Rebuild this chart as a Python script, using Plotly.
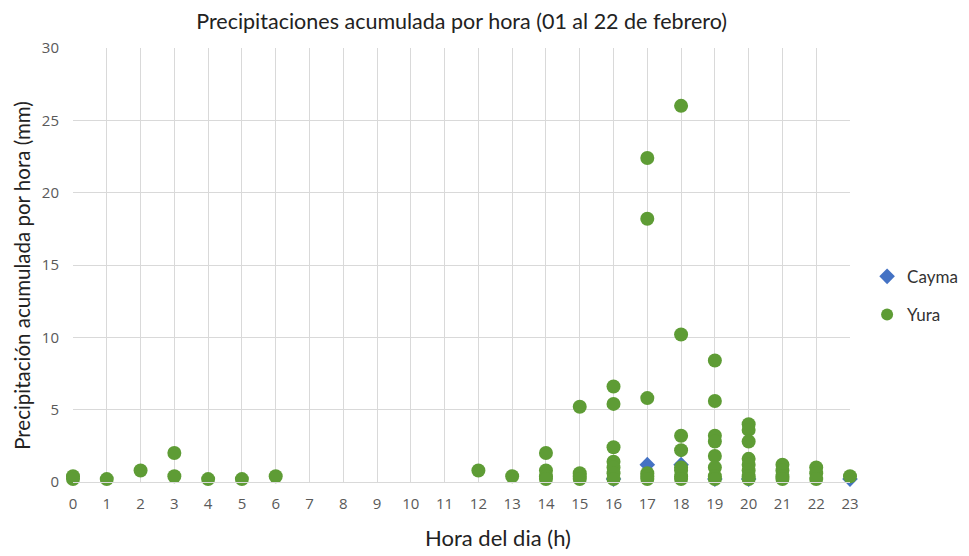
import plotly.graph_objects as go

# Data
hours_ticks = list(range(0, 24))
y_ticks = [0, 5, 10, 15, 20, 25, 30]

cayma_hour = [17, 18, 23, 16, 19, 20]
cayma_mm = [1.2, 1.2, 0.2, 0.2, 0.2, 0.2]

yura_hour = ([0, 0, 1, 2, 3, 3, 4, 5, 6, 12, 13]
             + [14] * 4 + [15] * 4 + [16] * 7 + [17] * 6 + [18] * 8
             + [19] * 8 + [20] * 8 + [21] * 4 + [22] * 3 + [23])
yura_mm = ([0.4, 0.2, 0.2, 0.8, 2.0, 0.4, 0.2, 0.2, 0.4, 0.8, 0.4]
           + [2.0, 0.8, 0.4, 0.2]
           + [5.2, 0.6, 0.4, 0.2]
           + [6.6, 5.4, 2.4, 1.4, 1.0, 0.6, 0.2]
           + [22.4, 18.2, 5.8, 0.6, 0.4, 0.2]
           + [26.0, 10.2, 3.2, 2.2, 1.0, 0.8, 0.4, 0.2]
           + [8.4, 5.6, 3.2, 2.8, 1.8, 1.0, 0.4, 0.2]
           + [4.0, 3.6, 2.8, 1.6, 1.2, 0.8, 0.4, 0.2]
           + [1.2, 0.8, 0.4, 0.2]
           + [1.0, 0.6, 0.2]
           + [0.4])

title_font = "Lato, 'Noto Sans', sans-serif"
tick_font = "'Open Sans', 'Liberation Sans', sans-serif"

fig = go.Figure()
fig.add_trace(go.Scatter(
    x=cayma_hour, y=cayma_mm, mode="markers", name="Cayma",
    legendgroup="a",
    marker=dict(symbol="diamond", size=12, color="#4472C4"),
    cliponaxis=False,
))
fig.add_trace(go.Scatter(
    x=yura_hour, y=yura_mm, mode="markers", name="Yura",
    legendgroup="b",
    marker=dict(symbol="circle", size=14, color="#5E9C35"),
    cliponaxis=False,
))

fig.update_layout(
    width=961, height=548,
    margin=dict(l=65, r=119, t=39.5, b=73.5, autoexpand=False),
    paper_bgcolor="white", plot_bgcolor="white",
    title=dict(text="Precipitaciones acumulada por hora (01 al 22 de febrero)",
               xref="container", x=0.472, xanchor="center",
               yref="container", y=0.9745, yanchor="middle",
               font=dict(family=title_font, size=21.5, color="#222222")),
    legend=dict(x=1.022, xanchor="left", y=0.429, yanchor="middle",
                font=dict(family=title_font, size=17, color="#333333"),
                tracegroupgap=13, itemsizing="constant"),
    showlegend=True,
    annotations=[
        dict(text="Hora del dia (h)", xref="paper", yref="paper",
             x=0.547, y=0, yshift=-55.5, xanchor="center", yanchor="middle",
             showarrow=False,
             font=dict(family=title_font, size=22, color="#222222")),
        dict(text="Precipitación acumulada por hora (mm)", xref="paper",
             yref="paper", x=0, xshift=-51, y=0.475, xanchor="center",
             yanchor="middle", textangle=-90, showarrow=False,
             font=dict(family=title_font, size=20.5, color="#222222")),
    ],
)
fig.update_xaxes(
    range=[0, 23], tickmode="array", tickvals=hours_ticks,
    ticktext=[str(h) for h in hours_ticks],
    showgrid=True, gridcolor="#D9D9D9", gridwidth=1,
    zeroline=False, showline=True, linecolor="#D9D9D9",
    ticks="outside", ticklen=8, tickcolor="rgba(0,0,0,0)",
    tickfont=dict(family=tick_font, size=15, color="#595959"),
    automargin=False,
)
fig.update_yaxes(
    range=[0, 30], tickmode="array", tickvals=y_ticks,
    showgrid=True, gridcolor="#D9D9D9", gridwidth=1,
    zeroline=False, showline=False,
    ticks="outside", ticklen=10, tickcolor="rgba(0,0,0,0)",
    tickfont=dict(family=tick_font, size=15, color="#595959"),
    automargin=False,
)

fig.write_html("out.html")
